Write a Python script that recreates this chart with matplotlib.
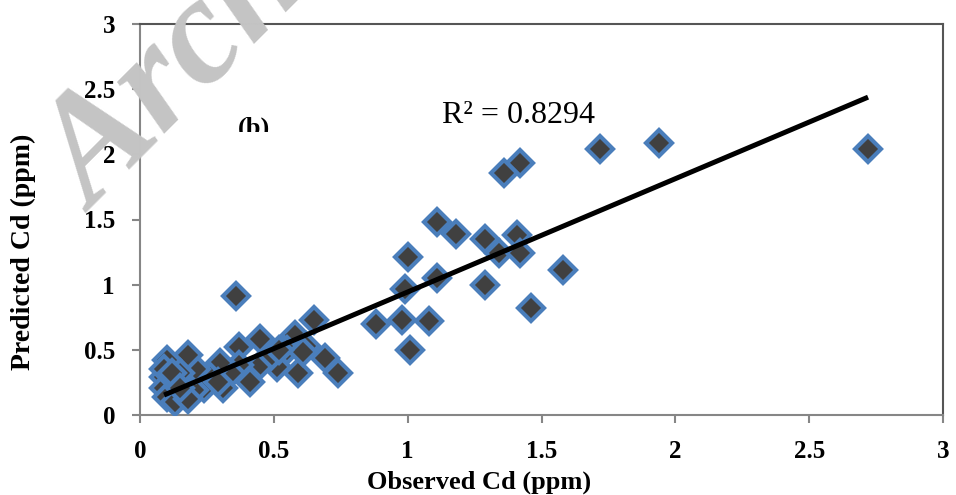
import matplotlib.pyplot as plt
from matplotlib.patches import Rectangle

# observed vs predicted Cd (ppm)
observed = [2.72, 1.94, 1.72, 1.42, 1.36, 1.11, 1.18, 1.29, 1.34, 1.41,
            1.42, 1.58, 1.46, 1.29, 1.00, 1.11, 0.99, 0.88, 0.98, 1.08,
            1.01, 0.36, 0.65, 0.69, 0.74, 0.59, 0.58, 0.62, 0.55, 0.51,
            0.49, 0.45, 0.44, 0.37, 0.40, 0.37, 0.34, 0.30, 0.31, 0.26,
            0.24, 0.20, 0.21, 0.18, 0.15, 0.10, 0.09, 0.09, 0.10, 0.13,
            0.18, 0.09, 0.12, 0.15, 0.29, 0.41, 0.61, 0.52]
predicted = [2.04, 2.09, 2.04, 1.93, 1.86, 1.48, 1.39, 1.35, 1.24, 1.38,
             1.24, 1.11, 0.82, 1.00, 1.21, 1.05, 0.97, 0.70, 0.73, 0.72,
             0.50, 0.91, 0.73, 0.44, 0.32, 0.32, 0.61, 0.53, 0.50, 0.37,
             0.45, 0.58, 0.37, 0.52, 0.29, 0.38, 0.32, 0.40, 0.21, 0.29,
             0.21, 0.19, 0.35, 0.46, 0.32, 0.42, 0.29, 0.21, 0.14, 0.10,
             0.12, 0.35, 0.32, 0.21, 0.25, 0.25, 0.48, 0.50]

# linear trend line as shown on the chart
trend_slope = 0.869
trend_intercept = 0.075
r2_label = 'R² = 0.8294'

ticks = [0, 0.5, 1, 1.5, 2, 2.5, 3]
tick_labels = ['0', '0.5', '1', '1.5', '2', '2.5', '3']

plt.rcParams['font.family'] = ['Liberation Serif', 'DejaVu Serif']

fig = plt.figure(figsize=(9.56, 4.95), dpi=100)
ax = fig.add_axes([140 / 956, 80 / 495, 803 / 956, 391 / 495])
ax.set_facecolor('none')

# watermark behind the plot
fig.text(0.098, 0.57, 'Archive of SID', rotation=45, rotation_mode='anchor',
         ha='left', va='baseline', fontsize=110, style='italic',
         weight='bold', color='#c4c4c4', zorder=0)

# scatter points
ax.plot(observed, predicted, linestyle='none', marker='D', markersize=13,
        markerfacecolor='#404040', markeredgecolor='#4a7ebb',
        markeredgewidth=3, zorder=3)

# trend line
x0 = min(observed)
x1 = max(observed)
ax.plot([x0, x1], [trend_slope * x0 + trend_intercept, trend_slope * x1 + trend_intercept],
        color='black', linewidth=3.6, solid_capstyle='butt', zorder=4)

ax.text(1.13, 2.295, r2_label, fontsize=23, ha='left', va='center')

# panel label, its lower part is cut off in the original
lbl = ax.text(0.426, 2.149, '(b)', fontsize=19, weight='bold',
              ha='center', va='baseline', clip_on=True)
lbl.set_clip_path(Rectangle((0, 2.175), 3, 1, transform=ax.transData))

ax.set_xlim(0, 3)
ax.set_ylim(0, 3)
ax.set_xticks(ticks)
ax.set_xticklabels(tick_labels)
ax.set_yticks(ticks)
ax.set_yticklabels(tick_labels)
for lab in ax.get_xticklabels() + ax.get_yticklabels():
    lab.set_fontweight('bold')
ax.tick_params(axis='x', length=6, width=1.5, color='#868686', labelsize=18, pad=12)
ax.tick_params(axis='y', length=6, width=1.5, color='#868686', labelsize=18, pad=12)

for side in ['left', 'bottom']:
    ax.spines[side].set_color('#868686')
    ax.spines[side].set_linewidth(1.5)
for side in ['top', 'right']:
    ax.spines[side].set_color('#555555')
    ax.spines[side].set_linewidth(1.5)

ax.set_xlabel('Observed Cd (ppm)', fontsize=19, fontweight='bold')
ax.set_ylabel('Predicted Cd (ppm)', fontsize=20, fontweight='bold')
ax.xaxis.set_label_coords(0.422, -0.141)
ax.yaxis.set_label_coords(-0.13, 0.417)

fig.savefig('out.png', dpi=100)
